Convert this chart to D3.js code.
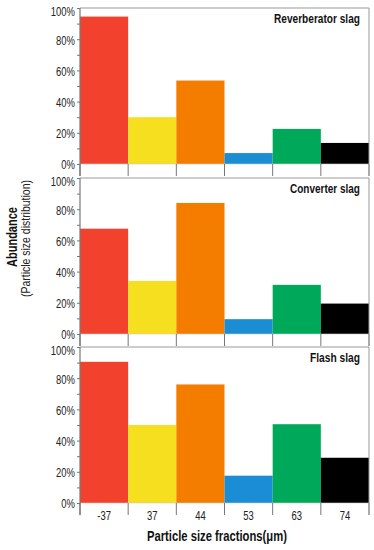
<!DOCTYPE html>
<html>
<head>
<meta charset="utf-8">
<script src="https://cdn.jsdelivr.net/npm/d3@7"></script>
<style>
  body { margin: 0; background: #fff; }
  svg { display: block; }
  text { font-family: "Liberation Sans", Arial, sans-serif; }
</style>
</head>
<body>
<svg id="chart" width="374" height="550"></svg>
<script>
var categories = ["-37", "37", "44", "53", "63", "74"];
var colors = ["#f2412d", "#f5df1e", "#f47d00", "#1a8dd4", "#00a95a", "#000000"];
var panelNames = ["Reverberator slag", "Converter slag", "Flash slag"];
var reverberator = [94.5, 30, 53.5, 7, 22.5, 13.5];
var converter = [67.5, 34, 84, 9.5, 31.5, 19.5];
var flash = [90.5, 50, 76, 17.5, 50.5, 29];
var yTicks = [0, 20, 40, 60, 80, 100];

var series = [reverberator, converter, flash];
var svg = d3.select("#chart");
var left = 80, right = 369;
var panelTops = [8, 178, 347];
var panelH = 156, strip = 12;
var narrow = 0.7; // the source font is a condensed sans

// squeeze a text horizontally so it spans w pixels, anchored at its start
function squeeze(t, tx, ty, w, rot) {
    var n = t.node().getComputedTextLength();
    t.attr("transform", "translate(" + tx + "," + ty + ")" + (rot ? " rotate(-90)" : "") + " scale(" + (w / n) + ",1)");
    return t;
}

var x = d3.scaleBand().domain(categories).range([left, right]).padding(0);

series.forEach(function (vals, p) {
    var top = panelTops[p];
    var y = d3.scaleLinear().domain([0, 100]).range([top + panelH, top]);
    var g = svg.append("g").attr("class", "panel");

    // top frame line
    g.append("line")
        .attr("x1", left).attr("x2", right)
        .attr("y1", top).attr("y2", top)
        .attr("stroke", "#999").attr("stroke-width", 1);

    g.selectAll("rect.bar")
        .data(vals)
        .enter()
        .append("rect")
        .attr("class", "bar")
        .attr("x", function (d, i) { return x(categories[i]); })
        .attr("width", x.bandwidth())
        .attr("y", function (d) { return y(d); })
        .attr("height", function (d) { return y(0) - y(d); })
        .attr("fill", function (d, i) { return colors[i]; });

    // baseline
    g.append("line")
        .attr("x1", left).attr("x2", right)
        .attr("y1", y(0)).attr("y2", y(0))
        .attr("stroke", "#ccc").attr("stroke-width", 0.6);

    // boundary ticks under the bars
    var bounds = categories.map(function (c) { return x(c); }).concat([right]);
    g.selectAll("line.bound")
        .data(bounds)
        .enter()
        .append("line")
        .attr("class", "bound")
        .attr("x1", function (d) { return d; }).attr("x2", function (d) { return d; })
        .attr("y1", y(0)).attr("y2", y(0) + strip)
        .attr("stroke", "#777").attr("stroke-width", 1);

    // right frame
    g.append("line")
        .attr("x1", right).attr("x2", right)
        .attr("y1", top).attr("y2", y(0) + strip)
        .attr("stroke", "#999").attr("stroke-width", 1);

    // y axis
    var axis = d3.axisLeft(y)
        .tickValues(d3.range(0, 101, 10))
        .tickSize(3)
        .tickFormat(function (d) { return yTicks.indexOf(d) >= 0 ? d + "%" : ""; });
    var ag = g.append("g")
        .attr("transform", "translate(" + left + ",0)")
        .call(axis);
    ag.select(".domain").remove();
    ag.selectAll(".tick line").attr("stroke", "#777");
    ag.selectAll(".tick text")
        .attr("x", -5 / narrow)
        .attr("y", function (d) { return d === 100 ? 2.5 : (d === 0 ? -0.5 : 0); })
        .attr("dy", "0.36em")
        .attr("transform", "scale(" + narrow + ",1)")
        .style("font-size", "13.5px")
        .attr("fill", "#222");
    g.append("line")
        .attr("x1", left).attr("x2", left)
        .attr("y1", top).attr("y2", y(0) + strip)
        .attr("stroke", "#777").attr("stroke-width", 1.2);

    var titleW = [86, 70, 50][p];
    var title = g.append("text")
        .style("font-size", "12.5px")
        .style("font-weight", "bold")
        .attr("fill", "#111")
        .text(panelNames[p]);
    squeeze(title, 360 - titleW, top + 15, titleW);

    if (p === series.length - 1) {
        g.selectAll("text.cat")
            .data(categories)
            .enter()
            .append("text")
            .attr("class", "cat")
            .attr("transform", function (d) {
                return "translate(" + (x(d) + x.bandwidth() / 2) + "," + (y(0) + 16.5) + ") scale(" + narrow + ",1)";
            })
            .attr("text-anchor", "middle")
            .style("font-size", "13.5px")
            .attr("fill", "#222")
            .text(function (d) { return d; });
    }
});

var xTitle = svg.append("text")
    .style("font-size", "14.5px")
    .style("font-weight", "bold")
    .attr("fill", "#111")
    .text("Particle size fractions(μm)");
squeeze(xTitle, 147, 541, 140);

var yTitle = svg.append("text")
    .style("font-size", "15.5px")
    .style("font-weight", "bold")
    .attr("fill", "#111")
    .text("Abundance");
squeeze(yTitle, 17, 267, 60, true);

var ySub = svg.append("text")
    .style("font-size", "13.5px")
    .attr("fill", "#222")
    .text("(Particle size distribution)");
squeeze(ySub, 29.5, 297, 117, true);
</script>
</body>
</html>
